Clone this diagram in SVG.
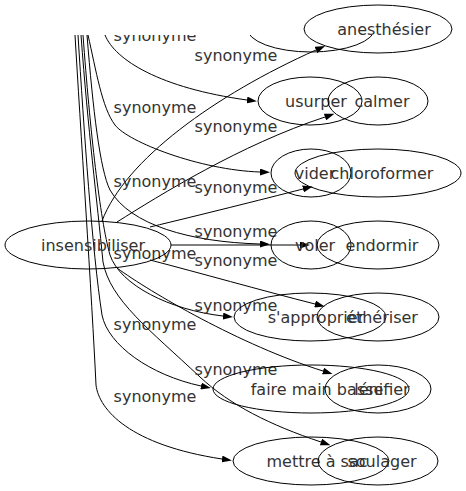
<svg xmlns="http://www.w3.org/2000/svg" width="466" height="491" viewBox="0 0 466 491">
<style>
.node ellipse{fill:none;stroke:#000;stroke-width:1}
.node text,.lbl{font-family:"DejaVu Sans",sans-serif;font-size:16px;fill:#333;text-anchor:middle}
.edge{fill:none;stroke:#000;stroke-width:1;marker-end:url(#arr)}
</style>
<defs>
<marker id="arr" markerWidth="10" markerHeight="7" refX="0" refY="3.5" orient="auto" markerUnits="userSpaceOnUse"><path d="M0,0 L10,3.5 L0,7 z" fill="#000"/></marker>
<clipPath id="clipTop"><rect x="0" y="35" width="466" height="456"/></clipPath>
</defs>
<rect width="466" height="491" fill="#fff"/>
<g id="connectors">
<g clip-path="url(#clipTop)">
<path class="edge" d="M105,35 C115,60 160,88 247,100"/>
<path class="edge" d="M88,35 C96,70 102,108 115,125 C128,142 200,170 260,172"/>
<path class="edge" d="M87,35 C93,110 100,170 110,190 C130,225 190,242 260,244"/>
<path class="edge" d="M83,35 C90,130 100,220 110,255 C120,285 170,310 223,316"/>
<path class="edge" d="M78,35 C84,130 92,250 102,315 C108,345 150,375 201,386"/>
<path class="edge" d="M81,35 C88,130 97,200 103,262 C110,300 150,330 200,377 C230,405 270,425 321,442"/>
<path class="edge" d="M75,35 C80,120 92,300 96,385 C99,410 130,445 222,459"/>
<text class="lbl" x="155" y="41">synonyme</text>
</g>
<path class="edge" d="M102,221 C125,160 215,95 316,50"/>
<path class="edge" d="M117,222 C160,195 240,145 325,117"/>
<path class="edge" d="M150,227 C200,215 260,200 303,189"/>
<path class="edge" d="M171,245 L300,245"/>
<path class="edge" d="M150,260 C200,273 260,290 315,304"/>
<path class="edge" d="M117,268 C150,292 240,345 323,371"/>
<text class="lbl" x="155" y="113">synonyme</text>
<text class="lbl" x="155" y="187">synonyme</text>
<text class="lbl" x="155" y="259">synonyme</text>
<text class="lbl" x="155" y="330">synonyme</text>
<text class="lbl" x="155" y="402">synonyme</text>
<text class="lbl" x="236" y="61">synonyme</text>
<text class="lbl" x="236" y="132">synonyme</text>
<text class="lbl" x="236" y="193">synonyme</text>
<text class="lbl" x="236" y="237">synonyme</text>
<text class="lbl" x="236" y="266">synonyme</text>
<text class="lbl" x="236" y="311">synonyme</text>
<text class="lbl" x="236" y="375">synonyme</text>
</g>
<g id="node-hidden" class="node" clip-path="url(#clipTop)"><ellipse cx="311" cy="28" rx="64" ry="24"/></g>
<g id="node-anesthesier" class="node"><ellipse cx="378" cy="29" rx="74" ry="24"/><text x="384" y="35">anesthésier</text></g>
<g id="node-usurper" class="node"><ellipse cx="310" cy="101" rx="52" ry="24"/><text x="316" y="107">usurper</text></g>
<g id="node-calmer" class="node"><ellipse cx="378" cy="101" rx="50" ry="24"/><text x="382" y="107">calmer</text></g>
<g id="node-vider" class="node"><ellipse cx="311" cy="173" rx="40" ry="24"/><text x="315" y="179">vider</text></g>
<g id="node-chloroformer" class="node"><ellipse cx="378" cy="173" rx="83" ry="24"/><text x="382" y="179">chloroformer</text></g>
<g id="node-voler" class="node"><ellipse cx="311" cy="245" rx="40" ry="24"/><text x="315" y="251">voler</text></g>
<g id="node-endormir" class="node"><ellipse cx="378" cy="245" rx="61" ry="24"/><text x="382" y="251">endormir</text></g>
<g id="node-sapproprier" class="node"><ellipse cx="310" cy="317" rx="76" ry="24"/><text x="316" y="323">s'approprier</text></g>
<g id="node-etheriser" class="node"><ellipse cx="378" cy="317" rx="61" ry="24"/><text x="382" y="323">éthériser</text></g>
<g id="node-fairemainbasse" class="node"><ellipse cx="311" cy="389" rx="98" ry="24"/><text x="317" y="395">faire main basse</text></g>
<g id="node-lenifier" class="node"><ellipse cx="378" cy="389" rx="53" ry="24"/><text x="382" y="395">lénifier</text></g>
<g id="node-mettreasac" class="node"><ellipse cx="311" cy="461" rx="78" ry="24"/><text x="317" y="467">mettre à sac</text></g>
<g id="node-soulager" class="node"><ellipse cx="378" cy="461" rx="60" ry="24"/><text x="382" y="467">soulager</text></g>
<g id="node-insensibiliser" class="node"><ellipse cx="88" cy="245" rx="83" ry="24"/><text x="93" y="251">insensibiliser</text></g>
</svg>
